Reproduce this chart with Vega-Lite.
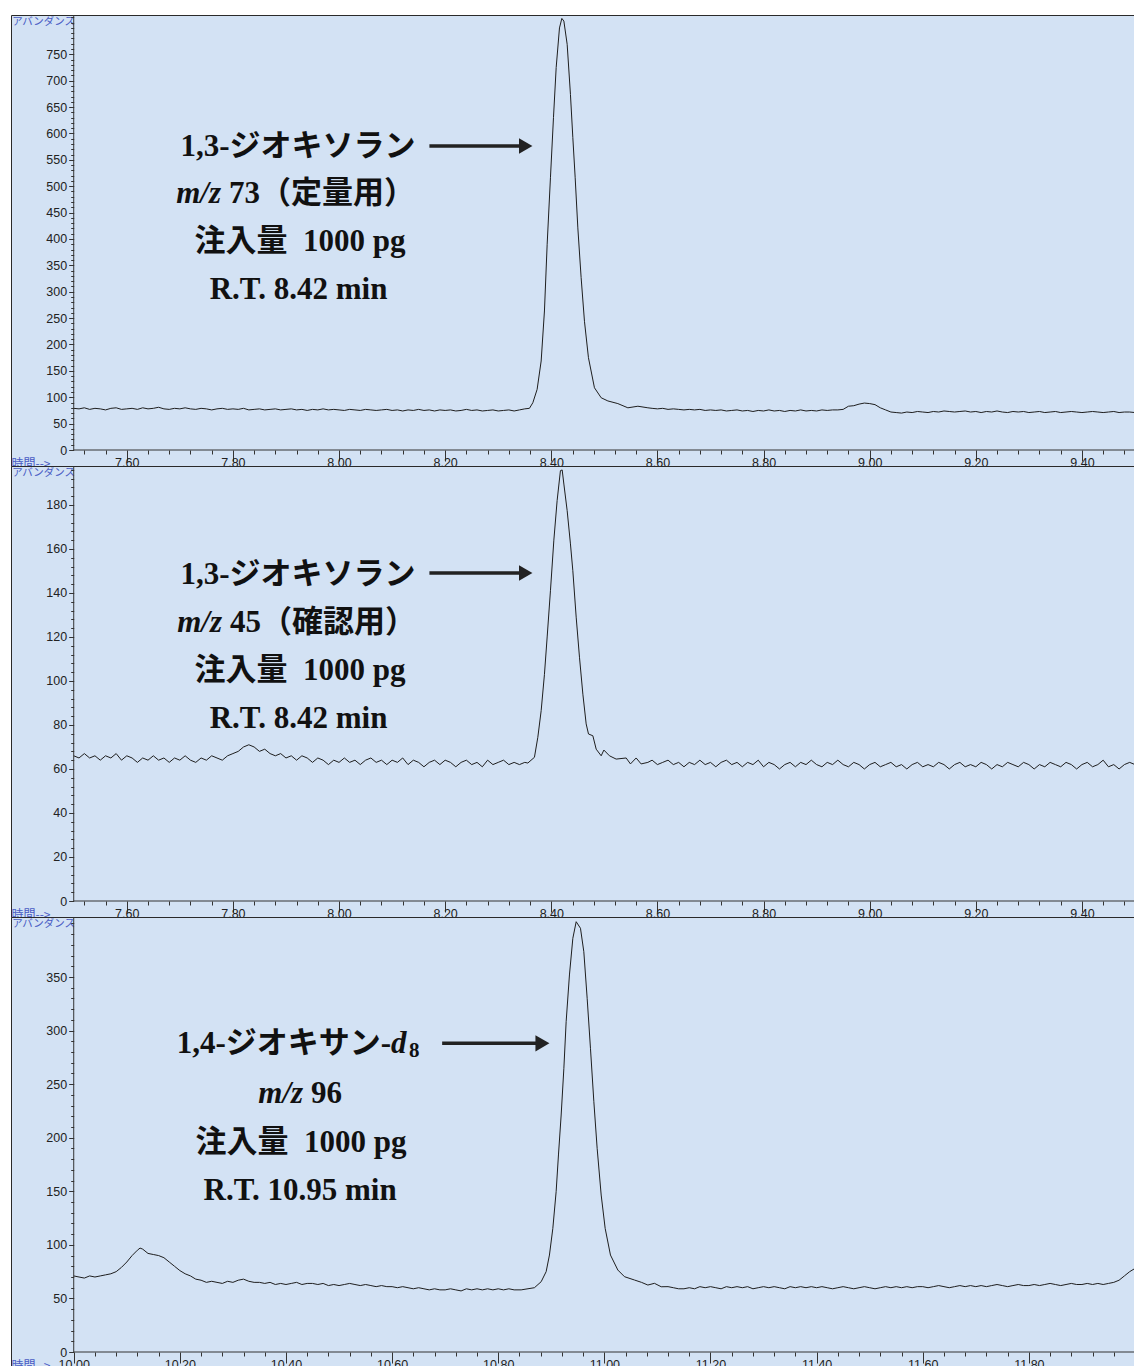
{
"$schema": "https://vega.github.io/schema/vega-lite/v6.json",
"background": "white",
"padding": {"left": 10, "top": 14, "right": 0, "bottom": 0},
"bounds": "flush",
"spacing": 0,
"config": {
  "view": {"fill": "#d3e2f4", "stroke": "#2a2a2a", "strokeWidth": 1},
  "axis": {"grid": false, "domain": false, "labelOverlap": false, "labelFlush": false, "labelBound": false, "labelFont": "Liberation Sans", "labelFontSize": 12.5, "labelColor": "#222222", "tickColor": "#333333", "titleFont": "Noto Sans CJK JP", "titleFontWeight": "normal", "titleColor": "#4a5cc4"},
  "text": {"font": "Liberation Serif, Noto Sans CJK JP", "fontSize": 31, "fontWeight": "bold", "color": "#111111", "baseline": "alphabetic"}
},
"datasets": {
  "tr1": [{"t":7.50,"v":79},{"t":7.51,"v":78},{"t":7.52,"v":80},{"t":7.53,"v":77},{"t":7.54,"v":79},{"t":7.55,"v":78},{"t":7.56,"v":76},{"t":7.57,"v":79},{"t":7.58,"v":80},{"t":7.59,"v":77},{"t":7.60,"v":78},{"t":7.61,"v":79},{"t":7.62,"v":77},{"t":7.63,"v":80},{"t":7.64,"v":78},{"t":7.65,"v":79},{"t":7.66,"v":81},{"t":7.67,"v":78},{"t":7.68,"v":77},{"t":7.69,"v":79},{"t":7.70,"v":78},{"t":7.71,"v":80},{"t":7.72,"v":78},{"t":7.73,"v":77},{"t":7.74,"v":79},{"t":7.75,"v":78},{"t":7.76,"v":76},{"t":7.77,"v":78},{"t":7.78,"v":79},{"t":7.79,"v":77},{"t":7.80,"v":78},{"t":7.81,"v":77},{"t":7.82,"v":79},{"t":7.83,"v":76},{"t":7.84,"v":77},{"t":7.85,"v":78},{"t":7.86,"v":76},{"t":7.87,"v":77},{"t":7.88,"v":78},{"t":7.89,"v":76},{"t":7.90,"v":77},{"t":7.91,"v":78},{"t":7.92,"v":76},{"t":7.93,"v":77},{"t":7.94,"v":75},{"t":7.95,"v":77},{"t":7.96,"v":76},{"t":7.97,"v":78},{"t":7.98,"v":76},{"t":7.99,"v":77},{"t":8.00,"v":76},{"t":8.01,"v":75},{"t":8.02,"v":77},{"t":8.03,"v":76},{"t":8.04,"v":75},{"t":8.05,"v":77},{"t":8.06,"v":76},{"t":8.07,"v":75},{"t":8.08,"v":76},{"t":8.09,"v":77},{"t":8.10,"v":75},{"t":8.11,"v":76},{"t":8.12,"v":74},{"t":8.13,"v":76},{"t":8.14,"v":75},{"t":8.15,"v":77},{"t":8.16,"v":75},{"t":8.17,"v":76},{"t":8.18,"v":74},{"t":8.19,"v":76},{"t":8.20,"v":75},{"t":8.21,"v":76},{"t":8.22,"v":74},{"t":8.23,"v":75},{"t":8.24,"v":77},{"t":8.25,"v":75},{"t":8.26,"v":76},{"t":8.27,"v":74},{"t":8.28,"v":75},{"t":8.29,"v":76},{"t":8.30,"v":74},{"t":8.31,"v":75},{"t":8.32,"v":76},{"t":8.33,"v":74},{"t":8.34,"v":76},{"t":8.35,"v":78},{"t":8.3588,"v":79},{"t":8.3652,"v":89.6},{"t":8.3733,"v":115},{"t":8.3809,"v":168.7},{"t":8.3871,"v":263.5},{"t":8.3922,"v":390},{"t":8.3984,"v":516},{"t":8.4041,"v":630},{"t":8.4092,"v":725},{"t":8.4154,"v":800},{"t":8.4199,"v":818},{"t":8.4237,"v":813},{"t":8.4299,"v":769},{"t":8.4361,"v":674},{"t":8.4406,"v":592},{"t":8.445,"v":516},{"t":8.45,"v":421},{"t":8.4562,"v":327},{"t":8.4625,"v":244},{"t":8.47,"v":175},{"t":8.4813,"v":118},{"t":8.494,"v":99},{"t":8.5066,"v":93},{"t":8.5254,"v":88},{"t":8.5443,"v":80},{"t":8.5632,"v":83},{"t":8.582,"v":80},{"t":8.59,"v":79},{"t":8.60,"v":78},{"t":8.61,"v":79},{"t":8.62,"v":77},{"t":8.63,"v":78},{"t":8.64,"v":77},{"t":8.65,"v":76},{"t":8.66,"v":77},{"t":8.67,"v":76},{"t":8.68,"v":77},{"t":8.69,"v":75},{"t":8.70,"v":76},{"t":8.71,"v":75},{"t":8.72,"v":76},{"t":8.73,"v":74},{"t":8.74,"v":75},{"t":8.75,"v":76},{"t":8.76,"v":74},{"t":8.77,"v":75},{"t":8.78,"v":73},{"t":8.79,"v":75},{"t":8.80,"v":74},{"t":8.81,"v":76},{"t":8.82,"v":74},{"t":8.83,"v":75},{"t":8.84,"v":73},{"t":8.85,"v":75},{"t":8.86,"v":74},{"t":8.87,"v":76},{"t":8.88,"v":74},{"t":8.89,"v":75},{"t":8.90,"v":74},{"t":8.91,"v":76},{"t":8.92,"v":75},{"t":8.93,"v":76},{"t":8.94,"v":76},{"t":8.95,"v":77},{"t":8.96,"v":83},{"t":8.97,"v":84},{"t":8.98,"v":87},{"t":8.99,"v":89},{"t":9.00,"v":88},{"t":9.01,"v":86},{"t":9.02,"v":80},{"t":9.03,"v":76},{"t":9.04,"v":72},{"t":9.05,"v":71},{"t":9.06,"v":70},{"t":9.07,"v":72},{"t":9.08,"v":71},{"t":9.09,"v":73},{"t":9.10,"v":72},{"t":9.11,"v":71},{"t":9.12,"v":73},{"t":9.13,"v":72},{"t":9.14,"v":74},{"t":9.15,"v":73},{"t":9.16,"v":72},{"t":9.17,"v":73},{"t":9.18,"v":74},{"t":9.19,"v":72},{"t":9.20,"v":73},{"t":9.21,"v":71},{"t":9.22,"v":73},{"t":9.23,"v":72},{"t":9.24,"v":74},{"t":9.25,"v":72},{"t":9.26,"v":71},{"t":9.27,"v":73},{"t":9.28,"v":72},{"t":9.29,"v":73},{"t":9.30,"v":71},{"t":9.31,"v":72},{"t":9.32,"v":73},{"t":9.33,"v":71},{"t":9.34,"v":72},{"t":9.35,"v":73},{"t":9.36,"v":71},{"t":9.37,"v":72},{"t":9.38,"v":73},{"t":9.39,"v":72},{"t":9.40,"v":71},{"t":9.41,"v":72},{"t":9.42,"v":73},{"t":9.43,"v":72},{"t":9.44,"v":71},{"t":9.45,"v":72},{"t":9.46,"v":73},{"t":9.47,"v":71},{"t":9.48,"v":72},{"t":9.49,"v":72},{"t":9.50,"v":71}],
  "tr2": [{"t":7.50,"v":66},{"t":7.51,"v":65},{"t":7.52,"v":67},{"t":7.53,"v":65},{"t":7.54,"v":66},{"t":7.55,"v":64},{"t":7.56,"v":66},{"t":7.57,"v":65},{"t":7.58,"v":67},{"t":7.59,"v":64},{"t":7.60,"v":66},{"t":7.61,"v":65},{"t":7.62,"v":63},{"t":7.63,"v":65},{"t":7.64,"v":64},{"t":7.65,"v":66},{"t":7.66,"v":64},{"t":7.67,"v":65},{"t":7.68,"v":63},{"t":7.69,"v":65},{"t":7.70,"v":64},{"t":7.71,"v":66},{"t":7.72,"v":64},{"t":7.73,"v":63},{"t":7.74,"v":65},{"t":7.75,"v":64},{"t":7.76,"v":66},{"t":7.77,"v":65},{"t":7.78,"v":64},{"t":7.79,"v":66},{"t":7.80,"v":67},{"t":7.81,"v":68},{"t":7.82,"v":70},{"t":7.83,"v":71},{"t":7.84,"v":70},{"t":7.85,"v":68},{"t":7.86,"v":69},{"t":7.87,"v":67},{"t":7.88,"v":66},{"t":7.89,"v":67},{"t":7.90,"v":65},{"t":7.91,"v":66},{"t":7.92,"v":64},{"t":7.93,"v":66},{"t":7.94,"v":65},{"t":7.95,"v":63},{"t":7.96,"v":65},{"t":7.97,"v":64},{"t":7.98,"v":62},{"t":7.99,"v":64},{"t":8.00,"v":63},{"t":8.01,"v":65},{"t":8.02,"v":63},{"t":8.03,"v":64},{"t":8.04,"v":62},{"t":8.05,"v":64},{"t":8.06,"v":65},{"t":8.07,"v":63},{"t":8.08,"v":64},{"t":8.09,"v":62},{"t":8.10,"v":64},{"t":8.11,"v":63},{"t":8.12,"v":65},{"t":8.13,"v":62},{"t":8.14,"v":64},{"t":8.15,"v":63},{"t":8.16,"v":61},{"t":8.17,"v":63},{"t":8.18,"v":64},{"t":8.19,"v":62},{"t":8.20,"v":64},{"t":8.21,"v":63},{"t":8.22,"v":61},{"t":8.23,"v":63},{"t":8.24,"v":64},{"t":8.25,"v":62},{"t":8.26,"v":63},{"t":8.27,"v":61},{"t":8.28,"v":64},{"t":8.29,"v":62},{"t":8.30,"v":63},{"t":8.31,"v":64},{"t":8.32,"v":62},{"t":8.33,"v":63},{"t":8.34,"v":62},{"t":8.35,"v":63},{"t":8.3558,"v":62.7},{"t":8.3682,"v":65.3},{"t":8.3746,"v":74.4},{"t":8.3809,"v":86.5},{"t":8.3871,"v":103},{"t":8.3922,"v":120},{"t":8.3984,"v":141},{"t":8.4048,"v":164},{"t":8.411,"v":182},{"t":8.4172,"v":195.6},{"t":8.4205,"v":195.9},{"t":8.4237,"v":189.5},{"t":8.4299,"v":177.4},{"t":8.4361,"v":162.3},{"t":8.4406,"v":150.1},{"t":8.4469,"v":129},{"t":8.4531,"v":110.8},{"t":8.4595,"v":94},{"t":8.4657,"v":80.5},{"t":8.4701,"v":75.9},{"t":8.4783,"v":75.1},{"t":8.4846,"v":69},{"t":8.494,"v":66},{"t":8.4991,"v":68.6},{"t":8.5096,"v":66},{"t":8.5222,"v":64.5},{"t":8.5411,"v":65},{"t":8.5492,"v":62.3},{"t":8.5599,"v":65},{"t":8.5693,"v":62.3},{"t":8.582,"v":63},{"t":8.59,"v":64},{"t":8.60,"v":62},{"t":8.61,"v":63},{"t":8.62,"v":64},{"t":8.63,"v":62},{"t":8.64,"v":63},{"t":8.65,"v":61},{"t":8.66,"v":63},{"t":8.67,"v":62},{"t":8.68,"v":64},{"t":8.69,"v":62},{"t":8.70,"v":63},{"t":8.71,"v":61},{"t":8.72,"v":63},{"t":8.73,"v":64},{"t":8.74,"v":62},{"t":8.75,"v":63},{"t":8.76,"v":61},{"t":8.77,"v":63},{"t":8.78,"v":62},{"t":8.79,"v":64},{"t":8.80,"v":61},{"t":8.81,"v":63},{"t":8.82,"v":62},{"t":8.83,"v":60},{"t":8.84,"v":62},{"t":8.85,"v":63},{"t":8.86,"v":61},{"t":8.87,"v":63},{"t":8.88,"v":62},{"t":8.89,"v":64},{"t":8.90,"v":62},{"t":8.91,"v":61},{"t":8.92,"v":63},{"t":8.93,"v":62},{"t":8.94,"v":64},{"t":8.95,"v":62},{"t":8.96,"v":61},{"t":8.97,"v":63},{"t":8.98,"v":62},{"t":8.99,"v":60},{"t":9.00,"v":62},{"t":9.01,"v":63},{"t":9.02,"v":61},{"t":9.03,"v":62},{"t":9.04,"v":63},{"t":9.05,"v":61},{"t":9.06,"v":62},{"t":9.07,"v":60},{"t":9.08,"v":62},{"t":9.09,"v":63},{"t":9.10,"v":61},{"t":9.11,"v":62},{"t":9.12,"v":61},{"t":9.13,"v":63},{"t":9.14,"v":62},{"t":9.15,"v":60},{"t":9.16,"v":62},{"t":9.17,"v":63},{"t":9.18,"v":61},{"t":9.19,"v":62},{"t":9.20,"v":61},{"t":9.21,"v":63},{"t":9.22,"v":62},{"t":9.23,"v":60},{"t":9.24,"v":62},{"t":9.25,"v":61},{"t":9.26,"v":63},{"t":9.27,"v":62},{"t":9.28,"v":61},{"t":9.29,"v":63},{"t":9.30,"v":62},{"t":9.31,"v":60},{"t":9.32,"v":62},{"t":9.33,"v":61},{"t":9.34,"v":63},{"t":9.35,"v":62},{"t":9.36,"v":61},{"t":9.37,"v":63},{"t":9.38,"v":62},{"t":9.39,"v":60},{"t":9.40,"v":62},{"t":9.41,"v":63},{"t":9.42,"v":61},{"t":9.43,"v":62},{"t":9.44,"v":64},{"t":9.45,"v":61},{"t":9.46,"v":62},{"t":9.47,"v":60},{"t":9.48,"v":62},{"t":9.49,"v":63},{"t":9.50,"v":62}],
  "tr3": [{"t":10.00,"v":71},{"t":10.01,"v":70},{"t":10.02,"v":69},{"t":10.03,"v":71},{"t":10.04,"v":70},{"t":10.05,"v":71},{"t":10.06,"v":72},{"t":10.07,"v":73},{"t":10.08,"v":75},{"t":10.09,"v":79},{"t":10.10,"v":84},{"t":10.11,"v":90},{"t":10.12,"v":95},{"t":10.125,"v":97},{"t":10.13,"v":96},{"t":10.14,"v":92},{"t":10.15,"v":91},{"t":10.16,"v":90},{"t":10.17,"v":88},{"t":10.18,"v":84},{"t":10.19,"v":80},{"t":10.20,"v":76},{"t":10.21,"v":73},{"t":10.22,"v":71},{"t":10.23,"v":68},{"t":10.24,"v":67},{"t":10.25,"v":65},{"t":10.26,"v":66},{"t":10.27,"v":65},{"t":10.28,"v":64},{"t":10.29,"v":66},{"t":10.30,"v":65},{"t":10.31,"v":67},{"t":10.32,"v":68},{"t":10.33,"v":66},{"t":10.34,"v":65},{"t":10.35,"v":65},{"t":10.36,"v":64},{"t":10.37,"v":65},{"t":10.38,"v":63},{"t":10.39,"v":64},{"t":10.40,"v":63},{"t":10.41,"v":64},{"t":10.42,"v":65},{"t":10.43,"v":63},{"t":10.44,"v":64},{"t":10.45,"v":64},{"t":10.46,"v":63},{"t":10.47,"v":64},{"t":10.48,"v":62},{"t":10.49,"v":63},{"t":10.50,"v":62},{"t":10.51,"v":63},{"t":10.52,"v":64},{"t":10.53,"v":63},{"t":10.54,"v":62},{"t":10.55,"v":63},{"t":10.56,"v":62},{"t":10.57,"v":61},{"t":10.58,"v":62},{"t":10.59,"v":61},{"t":10.60,"v":61},{"t":10.61,"v":60},{"t":10.62,"v":61},{"t":10.63,"v":60},{"t":10.64,"v":59},{"t":10.65,"v":60},{"t":10.66,"v":59},{"t":10.67,"v":58},{"t":10.68,"v":59},{"t":10.69,"v":58},{"t":10.70,"v":58},{"t":10.71,"v":59},{"t":10.72,"v":58},{"t":10.73,"v":57},{"t":10.74,"v":59},{"t":10.75,"v":58},{"t":10.76,"v":59},{"t":10.77,"v":58},{"t":10.78,"v":59},{"t":10.79,"v":58},{"t":10.80,"v":59},{"t":10.81,"v":58},{"t":10.82,"v":59},{"t":10.83,"v":58},{"t":10.8432,"v":58},{"t":10.8682,"v":60},{"t":10.8809,"v":65.6},{"t":10.8903,"v":75},{"t":10.8965,"v":90.5},{"t":10.9029,"v":115.4},{"t":10.9091,"v":149.6},{"t":10.9135,"v":183.9},{"t":10.9186,"v":221.2},{"t":10.9237,"v":264.8},{"t":10.928,"v":308.3},{"t":10.9342,"v":351.9},{"t":10.9406,"v":386.1},{"t":10.9469,"v":401.6},{"t":10.955,"v":395.5},{"t":10.9613,"v":373.6},{"t":10.9676,"v":330.1},{"t":10.9738,"v":283.5},{"t":10.9802,"v":233.6},{"t":10.9864,"v":190.1},{"t":10.994,"v":146.5},{"t":11.0015,"v":115.4},{"t":11.0115,"v":90.5},{"t":11.0254,"v":76.5},{"t":11.0379,"v":70.3},{"t":11.0567,"v":67.2},{"t":11.07,"v":65},{"t":11.082,"v":62.5},{"t":11.0944,"v":64.1},{"t":11.1071,"v":60.9},{"t":11.12,"v":61},{"t":11.13,"v":60},{"t":11.14,"v":59},{"t":11.15,"v":59},{"t":11.16,"v":60},{"t":11.17,"v":59},{"t":11.18,"v":61},{"t":11.19,"v":60},{"t":11.20,"v":61},{"t":11.21,"v":60},{"t":11.22,"v":59},{"t":11.23,"v":61},{"t":11.24,"v":60},{"t":11.25,"v":61},{"t":11.26,"v":60},{"t":11.27,"v":61},{"t":11.28,"v":59},{"t":11.29,"v":60},{"t":11.30,"v":61},{"t":11.31,"v":60},{"t":11.32,"v":61},{"t":11.33,"v":60},{"t":11.34,"v":59},{"t":11.35,"v":61},{"t":11.36,"v":60},{"t":11.37,"v":61},{"t":11.38,"v":60},{"t":11.39,"v":61},{"t":11.40,"v":60},{"t":11.41,"v":61},{"t":11.42,"v":60},{"t":11.43,"v":59},{"t":11.44,"v":60},{"t":11.45,"v":61},{"t":11.46,"v":60},{"t":11.47,"v":59},{"t":11.48,"v":60},{"t":11.49,"v":61},{"t":11.50,"v":60},{"t":11.51,"v":59},{"t":11.52,"v":60},{"t":11.53,"v":61},{"t":11.54,"v":60},{"t":11.55,"v":61},{"t":11.56,"v":60},{"t":11.57,"v":61},{"t":11.58,"v":60},{"t":11.59,"v":61},{"t":11.60,"v":61},{"t":11.61,"v":60},{"t":11.62,"v":61},{"t":11.63,"v":62},{"t":11.64,"v":61},{"t":11.65,"v":60},{"t":11.66,"v":61},{"t":11.67,"v":62},{"t":11.68,"v":61},{"t":11.69,"v":62},{"t":11.70,"v":61},{"t":11.71,"v":62},{"t":11.72,"v":61},{"t":11.73,"v":62},{"t":11.74,"v":63},{"t":11.75,"v":62},{"t":11.76,"v":61},{"t":11.77,"v":62},{"t":11.78,"v":63},{"t":11.79,"v":62},{"t":11.80,"v":62},{"t":11.81,"v":63},{"t":11.82,"v":62},{"t":11.83,"v":63},{"t":11.84,"v":64},{"t":11.85,"v":63},{"t":11.86,"v":62},{"t":11.87,"v":63},{"t":11.88,"v":64},{"t":11.89,"v":63},{"t":11.90,"v":63},{"t":11.91,"v":64},{"t":11.92,"v":63},{"t":11.93,"v":64},{"t":11.94,"v":63},{"t":11.95,"v":64},{"t":11.96,"v":65},{"t":11.97,"v":67},{"t":11.98,"v":71},{"t":11.99,"v":75},{"t":12.00,"v":78}],
  "ax1": [{"t":7.5,"t2":9.5,"v":0,"v2":0},{"t":7.5,"t2":7.5,"v":0,"v2":824.5}],
  "ax2": [{"t":7.5,"t2":9.5,"v":0,"v2":0},{"t":7.5,"t2":7.5,"v":0,"v2":197.7}],
  "ax3": [{"t":10.0,"t2":12.0,"v":0,"v2":0},{"t":10.0,"t2":10.0,"v":0,"v2":406}],
  "ar1": [{"t":8.1703,"t2":8.345,"v":576.2}],
  "ah1": [{"t":8.3518,"v":576.2}],
  "ar2": [{"t":8.1703,"t2":8.345,"v":149.1}],
  "ah2": [{"t":8.3518,"v":149.1}],
  "ar3": [{"t":10.6943,"t2":10.875,"v":288.1}],
  "ah3": [{"t":10.8833,"v":288.1}],
  "c1": [{"t":7.9228,"v":557.2,"label":"1,3-ジオキソラン"},{"t":7.9266,"v":377.2,"label":"注入量\u00a0 1000 pg"},{"t":7.9237,"v":285.6,"label":"R.T. 8.42 min"}],
  "i1": [{"t":7.7775,"v":468.7,"label":"m/z"}],
  "l1": [{"t":7.7775,"v":468.7,"label":"73（定量用）"}],
  "c2": [{"t":7.9228,"v":144.1,"label":"1,3-ジオキソラン"},{"t":7.9266,"v":100.5,"label":"注入量\u00a0 1000 pg"},{"t":7.9237,"v":78.6,"label":"R.T. 8.42 min"}],
  "i2": [{"t":7.7795,"v":122.3,"label":"m/z"}],
  "l2": [{"t":7.7795,"v":122.3,"label":"45（確認用）"}],
  "c3": [{"t":10.4285,"v":186.7,"label":"注入量\u00a0 1000 pg"},{"t":10.4266,"v":141.9,"label":"R.T. 10.95 min"}],
  "r3": [{"t":10.5981,"v":278.8,"label":"1,4-ジオキサン-"}],
  "il3": [{"t":10.5981,"v":278.8,"label":"d"}],
  "ir3": [{"t":10.4322,"v":232.4,"label":"m/z"}],
  "l3": [{"t":10.4322,"v":232.4,"label":"96"}],
  "s3": [{"t":10.632,"v":275.3,"label":"8"}]
},
"vconcat": [
  {
    "width": 1124, "height": 451,
    "resolve": {"axis": {"x": "independent", "y": "independent"}},
    "layer": [
      {"data": {"name": "tr1"}, "mark": {"type": "line", "color": "#1e1e1e", "strokeWidth": 1, "clip": true},
       "encoding": {
         "x": {"field": "t", "type": "quantitative", "scale": {"domain": [7.3818, 9.5], "nice": false, "zero": false},
               "axis": {"orient": "bottom", "values": [7.6,7.8,8,8.2,8.4,8.6,8.8,9,9.2,9.4], "format": ".2f", "tickSize": 11, "labelPadding": -5, "offset": -16,
                        "title": "時間-->", "titleX": 0, "titleY": 17, "titleAlign": "left", "titleBaseline": "alphabetic", "titleFontSize": 12}},
         "y": {"field": "v", "type": "quantitative", "scale": {"domain": [-30.3, 824.5], "nice": false, "zero": false},
               "axis": {"orient": "left", "values": [0,50,100,150,200,250,300,350,400,450,500,550,600,650,700,750], "tickSize": 5, "labelPadding": 2, "offset": -62.7,
                        "title": "アバンダンス", "titleAngle": 0, "titleX": -62, "titleY": 1, "titleAlign": "left", "titleBaseline": "top", "titleFontSize": 10.5}}
       }},
      {"data": {"name": "ax1"}, "mark": {"type": "rule", "color": "#333333", "strokeWidth": 1},
       "encoding": {
         "x": {"field": "t", "type": "quantitative", "axis": {"orient": "bottom", "values": [7.52,7.56,7.64,7.68,7.72,7.76,7.84,7.88,7.92,7.96,8.04,8.08,8.12,8.16,8.24,8.28,8.32,8.36,8.44,8.48,8.52,8.56,8.64,8.68,8.72,8.76,8.84,8.88,8.92,8.96,9.04,9.08,9.12,9.16,9.24,9.28,9.32,9.36,9.44,9.48], "labels": false, "tickSize": 4, "offset": -16, "title": null}},
         "x2": {"field": "t2"},
         "y": {"field": "v", "type": "quantitative", "axis": {"orient": "left", "values": [10,20,30,40,60,70,80,90,110,120,130,140,160,170,180,190,210,220,230,240,260,270,280,290,310,320,330,340,360,370,380,390,410,420,430,440,460,470,480,490,510,520,530,540,560,570,580,590,610,620,630,640,660,670,680,690,710,720,730,740,760,770,780,790,800,810,820], "labels": false, "tickSize": 3, "offset": -62.7, "title": null}},
         "y2": {"field": "v2"}}},
      {"data": {"name": "c1"}, "mark": {"type": "text", "align": "center"},
       "encoding": {"x": {"field": "t", "type": "quantitative", "axis": null}, "y": {"field": "v", "type": "quantitative", "axis": null}, "text": {"field": "label"}}},
      {"data": {"name": "i1"}, "mark": {"type": "text", "align": "right", "fontStyle": "italic"},
       "encoding": {"x": {"field": "t", "type": "quantitative", "axis": null}, "y": {"field": "v", "type": "quantitative", "axis": null}, "text": {"field": "label"}}},
      {"data": {"name": "l1"}, "mark": {"type": "text", "align": "left", "dx": 8},
       "encoding": {"x": {"field": "t", "type": "quantitative", "axis": null}, "y": {"field": "v", "type": "quantitative", "axis": null}, "text": {"field": "label"}}},
      {"data": {"name": "ar1"}, "mark": {"type": "rule", "color": "#222222", "strokeWidth": 3.5},
       "encoding": {"x": {"field": "t", "type": "quantitative", "axis": null}, "x2": {"field": "t2"}, "y": {"field": "v", "type": "quantitative", "axis": null}}},
      {"data": {"name": "ah1"}, "mark": {"type": "point", "shape": "triangle-right", "filled": true, "size": 240, "color": "#222222", "opacity": 1},
       "encoding": {"x": {"field": "t", "type": "quantitative", "axis": null}, "y": {"field": "v", "type": "quantitative", "axis": null}}}
    ]
  },
  {
    "width": 1124, "height": 451,
    "resolve": {"axis": {"x": "independent", "y": "independent"}},
    "layer": [
      {"data": {"name": "tr2"}, "mark": {"type": "line", "color": "#1e1e1e", "strokeWidth": 1, "clip": true},
       "encoding": {
         "x": {"field": "t", "type": "quantitative", "scale": {"domain": [7.3818, 9.5], "nice": false, "zero": false},
               "axis": {"orient": "bottom", "values": [7.6,7.8,8,8.2,8.4,8.6,8.8,9,9.2,9.4], "format": ".2f", "tickSize": 11, "labelPadding": -5, "offset": -16,
                        "title": "時間-->", "titleX": 0, "titleY": 17, "titleAlign": "left", "titleBaseline": "alphabetic", "titleFontSize": 12}},
         "y": {"field": "v", "type": "quantitative", "scale": {"domain": [-7.27, 197.7], "nice": false, "zero": false},
               "axis": {"orient": "left", "values": [0,20,40,60,80,100,120,140,160,180], "tickSize": 5, "labelPadding": 2, "offset": -62.7,
                        "title": "アバンダンス", "titleAngle": 0, "titleX": -62, "titleY": 1, "titleAlign": "left", "titleBaseline": "top", "titleFontSize": 10.5}}
       }},
      {"data": {"name": "ax2"}, "mark": {"type": "rule", "color": "#333333", "strokeWidth": 1},
       "encoding": {
         "x": {"field": "t", "type": "quantitative", "axis": {"orient": "bottom", "values": [7.52,7.56,7.64,7.68,7.72,7.76,7.84,7.88,7.92,7.96,8.04,8.08,8.12,8.16,8.24,8.28,8.32,8.36,8.44,8.48,8.52,8.56,8.64,8.68,8.72,8.76,8.84,8.88,8.92,8.96,9.04,9.08,9.12,9.16,9.24,9.28,9.32,9.36,9.44,9.48], "labels": false, "tickSize": 4, "offset": -16, "title": null}},
         "x2": {"field": "t2"},
         "y": {"field": "v", "type": "quantitative", "axis": {"orient": "left", "values": [4,8,12,16,24,28,32,36,44,48,52,56,64,68,72,76,84,88,92,96,104,108,112,116,124,128,132,136,144,148,152,156,164,168,172,176,184,188,192,196], "labels": false, "tickSize": 3, "offset": -62.7, "title": null}},
         "y2": {"field": "v2"}}},
      {"data": {"name": "c2"}, "mark": {"type": "text", "align": "center"},
       "encoding": {"x": {"field": "t", "type": "quantitative", "axis": null}, "y": {"field": "v", "type": "quantitative", "axis": null}, "text": {"field": "label"}}},
      {"data": {"name": "i2"}, "mark": {"type": "text", "align": "right", "fontStyle": "italic"},
       "encoding": {"x": {"field": "t", "type": "quantitative", "axis": null}, "y": {"field": "v", "type": "quantitative", "axis": null}, "text": {"field": "label"}}},
      {"data": {"name": "l2"}, "mark": {"type": "text", "align": "left", "dx": 8},
       "encoding": {"x": {"field": "t", "type": "quantitative", "axis": null}, "y": {"field": "v", "type": "quantitative", "axis": null}, "text": {"field": "label"}}},
      {"data": {"name": "ar2"}, "mark": {"type": "rule", "color": "#222222", "strokeWidth": 3.5},
       "encoding": {"x": {"field": "t", "type": "quantitative", "axis": null}, "x2": {"field": "t2"}, "y": {"field": "v", "type": "quantitative", "axis": null}}},
      {"data": {"name": "ah2"}, "mark": {"type": "point", "shape": "triangle-right", "filled": true, "size": 240, "color": "#222222", "opacity": 1},
       "encoding": {"x": {"field": "t", "type": "quantitative", "axis": null}, "y": {"field": "v", "type": "quantitative", "axis": null}}}
    ]
  },
  {
    "width": 1124, "height": 451,
    "resolve": {"axis": {"x": "independent", "y": "independent"}},
    "layer": [
      {"data": {"name": "tr3"}, "mark": {"type": "line", "color": "#1e1e1e", "strokeWidth": 1, "clip": true},
       "encoding": {
         "x": {"field": "t", "type": "quantitative", "scale": {"domain": [9.8818, 12.0], "nice": false, "zero": false},
               "axis": {"orient": "bottom", "values": [10,10.2,10.4,10.6,10.8,11,11.2,11.4,11.6,11.8], "format": ".2f", "tickSize": 11, "labelPadding": -5, "offset": -16,
                        "title": "時間-->", "titleX": 0, "titleY": 17, "titleAlign": "left", "titleBaseline": "alphabetic", "titleFontSize": 12}},
         "y": {"field": "v", "type": "quantitative", "scale": {"domain": [-14.93, 406], "nice": false, "zero": false},
               "axis": {"orient": "left", "values": [0,50,100,150,200,250,300,350], "tickSize": 5, "labelPadding": 2, "offset": -62.7,
                        "title": "アバンダンス", "titleAngle": 0, "titleX": -62, "titleY": 1, "titleAlign": "left", "titleBaseline": "top", "titleFontSize": 10.5}}
       }},
      {"data": {"name": "ax3"}, "mark": {"type": "rule", "color": "#333333", "strokeWidth": 1},
       "encoding": {
         "x": {"field": "t", "type": "quantitative", "axis": {"orient": "bottom", "values": [10.04,10.08,10.12,10.16,10.24,10.28,10.32,10.36,10.44,10.48,10.52,10.56,10.64,10.68,10.72,10.76,10.84,10.88,10.92,10.96,11.04,11.08,11.12,11.16,11.24,11.28,11.32,11.36,11.44,11.48,11.52,11.56,11.64,11.68,11.72,11.76,11.84,11.88,11.92,11.96], "labels": false, "tickSize": 4, "offset": -16, "title": null}},
         "x2": {"field": "t2"},
         "y": {"field": "v", "type": "quantitative", "axis": {"orient": "left", "values": [10,20,30,40,60,70,80,90,110,120,130,140,160,170,180,190,210,220,230,240,260,270,280,290,310,320,330,340,360,370,380,390,400], "labels": false, "tickSize": 3, "offset": -62.7, "title": null}},
         "y2": {"field": "v2"}}},
      {"data": {"name": "c3"}, "mark": {"type": "text", "align": "center"},
       "encoding": {"x": {"field": "t", "type": "quantitative", "axis": null}, "y": {"field": "v", "type": "quantitative", "axis": null}, "text": {"field": "label"}}},
      {"data": {"name": "r3"}, "mark": {"type": "text", "align": "right"},
       "encoding": {"x": {"field": "t", "type": "quantitative", "axis": null}, "y": {"field": "v", "type": "quantitative", "axis": null}, "text": {"field": "label"}}},
      {"data": {"name": "il3"}, "mark": {"type": "text", "align": "left", "fontStyle": "italic"},
       "encoding": {"x": {"field": "t", "type": "quantitative", "axis": null}, "y": {"field": "v", "type": "quantitative", "axis": null}, "text": {"field": "label"}}},
      {"data": {"name": "ir3"}, "mark": {"type": "text", "align": "right", "fontStyle": "italic"},
       "encoding": {"x": {"field": "t", "type": "quantitative", "axis": null}, "y": {"field": "v", "type": "quantitative", "axis": null}, "text": {"field": "label"}}},
      {"data": {"name": "l3"}, "mark": {"type": "text", "align": "left", "dx": 8},
       "encoding": {"x": {"field": "t", "type": "quantitative", "axis": null}, "y": {"field": "v", "type": "quantitative", "axis": null}, "text": {"field": "label"}}},
      {"data": {"name": "s3"}, "mark": {"type": "text", "align": "left", "fontSize": 21},
       "encoding": {"x": {"field": "t", "type": "quantitative", "axis": null}, "y": {"field": "v", "type": "quantitative", "axis": null}, "text": {"field": "label"}}},
      {"data": {"name": "ar3"}, "mark": {"type": "rule", "color": "#222222", "strokeWidth": 3.5},
       "encoding": {"x": {"field": "t", "type": "quantitative", "axis": null}, "x2": {"field": "t2"}, "y": {"field": "v", "type": "quantitative", "axis": null}}},
      {"data": {"name": "ah3"}, "mark": {"type": "point", "shape": "triangle-right", "filled": true, "size": 260, "color": "#222222", "opacity": 1},
       "encoding": {"x": {"field": "t", "type": "quantitative", "axis": null}, "y": {"field": "v", "type": "quantitative", "axis": null}}}
    ]
  }
]
}
